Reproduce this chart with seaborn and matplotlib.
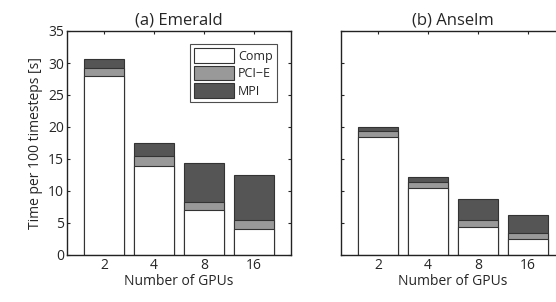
import numpy as np
import pandas as pd
import matplotlib
matplotlib.use("Agg")
import matplotlib.pyplot as plt
import seaborn as sns
from matplotlib.patches import Patch

gpus = ["2", "4", "8", "16"]

# (a) Emerald
em_comp = [28.0, 13.95, 7.0, 4.0]
em_pcie = [1.2, 1.45, 1.3, 1.4]
em_mpi = [1.5, 2.1, 6.0, 7.1]

# (b) Anselm
an_comp = [18.4, 10.5, 4.3, 2.45]
an_pcie = [0.9, 0.95, 1.1, 1.05]
an_mpi = [0.65, 0.75, 3.3, 2.7]

parts = ["Comp", "PCI\u2212E", "MPI"]
colors = ["#ffffff", "#999999", "#555555"]

sns.set_style("white")
plt.rcParams["font.family"] = ["Open Sans", "DejaVu Sans"]

fig = plt.figure(figsize=(5.56, 3.02), dpi=100)
ax1 = fig.add_axes([67 / 556, 47 / 302, 224 / 556, 224 / 302])
ax2 = fig.add_axes([341 / 556, 47 / 302, 224 / 556, 224 / 302])


def draw(ax, comp, pcie, mpi, title):
    df = pd.DataFrame({"gpus": gpus, "comp": comp, "pcie": pcie, "mpi": mpi})
    df["c1"] = df["comp"]
    df["c2"] = df["comp"] + df["pcie"]
    df["c3"] = df["c2"] + df["mpi"]
    # draw from tallest to shortest so stacks overlap properly
    for col, color in zip(["c3", "c2", "c1"], colors[::-1]):
        sns.barplot(data=df, x="gpus", y=col, color=color, saturation=1,
                    width=0.8, edgecolor="#333333", linewidth=0.8, ax=ax,
                    errorbar=None)
    ax.set_xlim(-0.74, 3.74)
    ax.set_ylim(0, 35)
    ax.set_yticks(range(0, 36, 5))
    ax.set_title(title, fontsize=12, pad=5)
    ax.set_xlabel("Number of GPUs", fontsize=10, labelpad=1)
    ax.tick_params(direction="in", length=2.5, width=0.8, labelsize=10,
                   top=True, right=True, bottom=True, left=True, pad=2)
    for s in ax.spines.values():
        s.set_color("#222222")
        s.set_linewidth(1.0)


draw(ax1, em_comp, em_pcie, em_mpi, "(a) Emerald")
draw(ax2, an_comp, an_pcie, an_mpi, "(b) Anselm")
ax1.set_ylabel("Time per 100 timesteps [s]", fontsize=10, labelpad=4)
ax2.set_ylabel("")
ax2.set_yticklabels([])

handles = [Patch(facecolor=c, edgecolor="#333333", linewidth=0.8) for c in colors]
leg = ax1.legend(handles, parts, loc="upper right", fontsize=9,
                 frameon=True, fancybox=False, edgecolor="#222222",
                 borderpad=0.35, handlelength=3.2, handleheight=1.4,
                 handletextpad=0.3, labelspacing=0.25,
                 bbox_to_anchor=(0.965, 0.97))
leg.get_frame().set_linewidth(0.8)

fig.savefig("out.png", dpi=100)
